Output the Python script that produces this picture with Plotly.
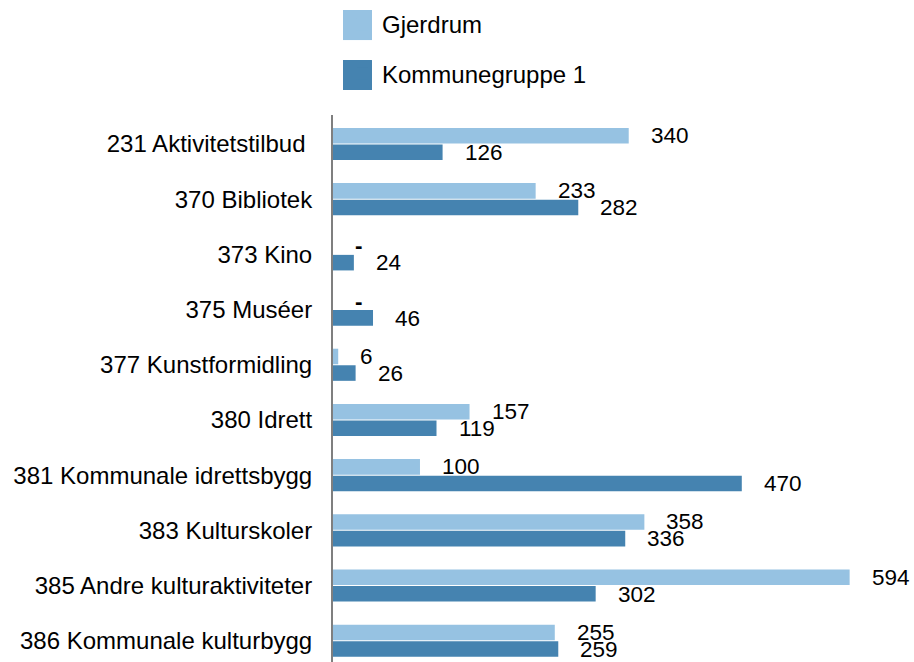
import plotly.graph_objects as go

categories = [
    "231 Aktivitetstilbud\u00a0",
    "370 Bibliotek",
    "373 Kino",
    "375 Muséer",
    "377 Kunstformidling",
    "380 Idrett",
    "381 Kommunale idrettsbygg",
    "383 Kulturskoler",
    "385 Andre kulturaktiviteter",
    "386 Kommunale kulturbygg",
]
gjerdrum = [340, 233, 0, 0, 6, 157, 100, 358, 594, 255]
kommunegruppe = [126, 282, 24, 46, 26, 119, 470, 336, 302, 259]

series_names = ["Gjerdrum", "Kommunegruppe 1"]
colors = ["#96C2E2", "#4583B0"]

FONT = "Liberation Sans, Arial, sans-serif"

fig = go.Figure()
for i, (name, vals, col) in enumerate(zip(series_names, [gjerdrum, kommunegruppe], colors)):
    fig.add_trace(go.Bar(
        y=categories, x=vals, name=name, orientation="h",
        marker=dict(color=col, line=dict(width=0)),
        legendgroup=f"g{i}",
    ))

annotations = []
for vals, dy in [(gjerdrum, 8.5), (kommunegruppe, -8.5)]:
    for cat, v in zip(categories, vals):
        annotations.append(dict(
            x=v, y=cat, xref="x", yref="y",
            text=str(v) if v else "<b>-</b>",
            showarrow=False, xanchor="left", yanchor="middle",
            xshift=20, yshift=dy,
            font=dict(family=FONT, size=22.5, color="#000000"),
        ))

# enlarged legend swatches (decoration behind the legend symbols)
shapes = []
for col, (ytop, ybot) in zip(colors, [(1.192, 1.137), (1.1005, 1.0457)]):
    shapes.append(dict(
        type="rect", xref="paper", yref="paper",
        x0=0.0172, x1=0.0671, y0=ybot, y1=ytop,
        fillcolor=col, line=dict(width=0), layer="above",
    ))

fig.update_layout(
    width=914, height=662,
    margin=dict(l=333, r=0, t=115, b=0, pad=0),
    paper_bgcolor="white", plot_bgcolor="white",
    barmode="group", bargap=0.4, bargroupgap=0.06,
    font=dict(family=FONT, size=24, color="#000000"),
    showlegend=True,
    legend=dict(
        x=0.0155, y=0.997, xref="paper", yref="container",
        xanchor="left", yanchor="top",
        orientation="v", traceorder="grouped",
        tracegroupgap=15, itemwidth=30,
        font=dict(family=FONT, size=24, color="#000000"),
        bgcolor="rgba(0,0,0,0)",
    ),
    annotations=annotations,
    shapes=shapes,
)
fig.update_xaxes(range=[0, 668], visible=False, showgrid=False, zeroline=False)
fig.update_yaxes(
    autorange=False, range=[9.385, -0.525],
    showline=True, linecolor="#7f7f7f", linewidth=2,
    showgrid=False, zeroline=False, ticks="",
    ticklabelstandoff=14,
    tickfont=dict(family=FONT, size=24, color="#000000"),
)

fig.write_html(
    "out.html",
    config={"displayModeBar": False},
    post_script="document.body.style.margin='0';document.body.style.padding='0';",
)
